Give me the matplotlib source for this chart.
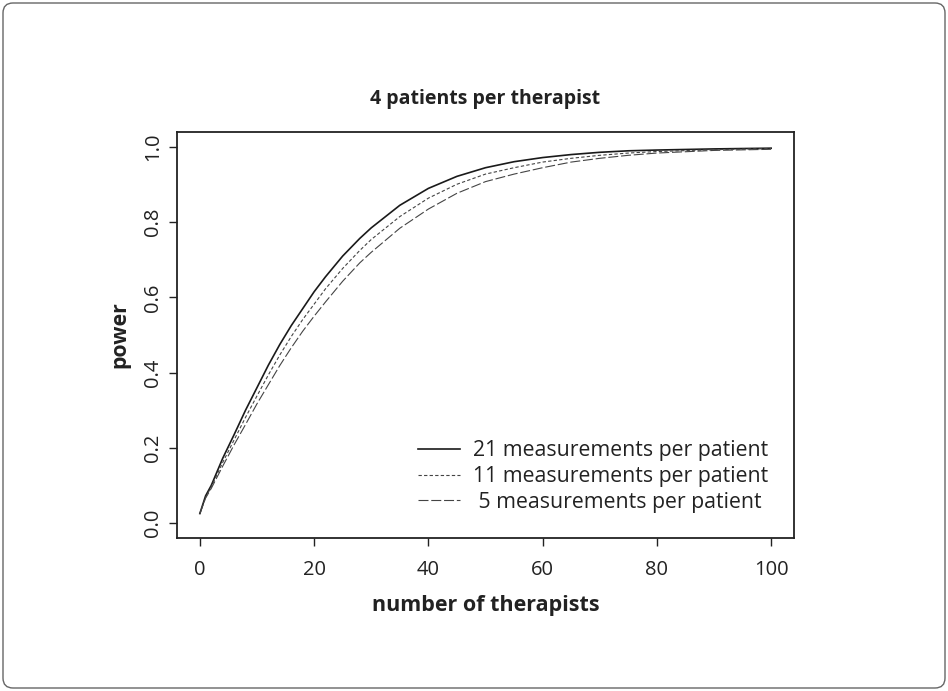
import matplotlib
matplotlib.use("Agg")
import matplotlib.pyplot as plt
from matplotlib.patches import FancyBboxPatch

plt.rcParams['font.family'] = ['Open Sans', 'DejaVu Sans']

# number of therapists
n_ther = [0, 1, 2, 4, 6, 8, 10, 12, 14, 16, 18, 20, 22, 25, 28, 30, 35, 40,
          45, 50, 55, 60, 65, 70, 75, 80, 90, 100]

# power
pow_21 = [0.025, 0.072, 0.100, 0.172, 0.235, 0.300, 0.360, 0.420, 0.475, 0.525,
          0.570, 0.615, 0.655, 0.710, 0.757, 0.785, 0.845, 0.890, 0.922, 0.945,
          0.961, 0.972, 0.980, 0.986, 0.990, 0.992, 0.995, 0.997]
pow_11 = [0.025, 0.068, 0.096, 0.161, 0.221, 0.281, 0.338, 0.394, 0.447, 0.496,
          0.541, 0.582, 0.623, 0.677, 0.725, 0.754, 0.815, 0.864, 0.901, 0.928,
          0.945, 0.960, 0.970, 0.978, 0.984, 0.988, 0.993, 0.996]
pow_5 = [0.025, 0.066, 0.092, 0.151, 0.208, 0.262, 0.317, 0.368, 0.419, 0.466,
         0.510, 0.550, 0.588, 0.643, 0.692, 0.720, 0.784, 0.835, 0.877, 0.908,
         0.928, 0.945, 0.960, 0.970, 0.978, 0.984, 0.991, 0.994]

labels = ['21 measurements per patient', '11 measurements per patient',
          ' 5 measurements per patient']

fig = plt.figure(figsize=(9.48, 6.91), dpi=100)
ax = fig.add_axes([177/948, 1 - 538/691, (794 - 177)/948, (538 - 132)/691])

ax.plot(n_ther, pow_21, color='#1a1a1a', lw=1.2, label=labels[0])
ax.plot(n_ther, pow_11, color='#444444', lw=0.8, dashes=(3, 2), label=labels[1])
ax.plot(n_ther, pow_5, color='#444444', lw=0.8, dashes=(9, 2.5), label=labels[2])

ax.set_xlim(-4, 104)
ax.set_ylim(-0.04, 1.04)
ax.set_xticks([0, 20, 40, 60, 80, 100])
ax.set_yticks([0.0, 0.2, 0.4, 0.6, 0.8, 1.0])
ax.set_yticklabels(['0.0', '0.2', '0.4', '0.6', '0.8', '1.0'], rotation=90, va='center')
ax.tick_params(direction='out', length=6, width=1, colors='#222222', labelsize=14.5)
ax.tick_params(axis='x', pad=10)
ax.tick_params(axis='y', pad=4)
for s in ax.spines.values():
    s.set_linewidth(1.3)
    s.set_color('#222222')

ax.set_title('4 patients per therapist', fontsize=14, fontweight='bold', pad=20, color='#222222')
ax.set_xlabel('number of therapists', fontsize=15.5, fontweight='bold', labelpad=11, color='#222222')
ax.set_ylabel('power', fontsize=15.3, fontweight='bold', labelpad=9, color='#222222')

ax.legend(loc='lower right', bbox_to_anchor=(0.958, 0.062), frameon=False,
          fontsize=15.3, handlelength=2.0, handletextpad=0.6, labelspacing=0.22,
          borderpad=0, borderaxespad=0, labelcolor='#222222')

frame = FancyBboxPatch((0.03, 0.03), 9.42, 6.85, boxstyle='round,pad=0,rounding_size=0.1',
                       transform=fig.dpi_scale_trans, fill=False, edgecolor='#666666', lw=1)
fig.add_artist(frame)

plt.savefig('out.png', dpi=100)
